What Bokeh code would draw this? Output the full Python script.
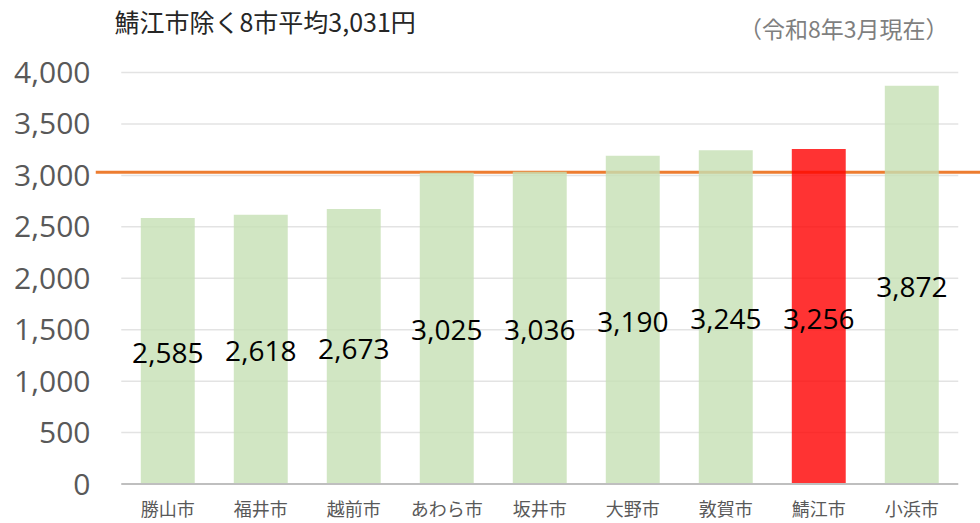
from bokeh.plotting import figure
from bokeh.models import Range1d, FixedTicker, NumeralTickFormatter, Span, Label, ColumnDataSource
from bokeh.embed import file_html
from bokeh.resources import INLINE
from bokeh.core.properties import value

# ---- data ----
cities = ["勝山市", "福井市", "越前市", "あわら市", "坂井市", "大野市", "敦賀市", "鯖江市", "小浜市"]
prices = [2585, 2618, 2673, 3025, 3036, 3190, 3245, 3256, 3872]
highlight = "鯖江市"
average_excl = 3031
y_ticks = [0, 500, 1000, 1500, 2000, 2500, 3000, 3500, 4000]
title_text = "鯖江市除く8市平均3,031円"
note_text = "（令和8年3月現在）"

GREEN = "#C5E0B4"
RED = "#FF0000"
ORANGE = "#ED7D31"

xs = [i + 0.5 for i in range(len(cities))]
colors = [RED if c == highlight else GREEN for c in cities]
labels = [f"{v:,}" for v in prices]
mids = [v / 2 for v in prices]

src = ColumnDataSource(dict(x=xs, top=prices, color=colors, label=labels, mid=mids, city=cities))

p = figure(width=980, height=523, output_backend="svg", toolbar_location=None,
           x_range=Range1d(-0.277, 9.239), y_range=Range1d(-43.7, 4700),
           min_border_left=95, min_border_right=0, min_border_top=0, min_border_bottom=35)
p.outline_line_color = None
p.xgrid.visible = False
p.ygrid.visible = False
p.background_fill_color = "white"
p.border_fill_color = "white"

# gridlines (drawn within category extent)
n = len(cities)
grid_y = [t for t in y_ticks if t > 0]
gl = p.segment(x0=[0] * len(grid_y), x1=[n] * len(grid_y), y0=grid_y, y1=grid_y,
               line_color="#e3e3e3", line_width=1.5)
gl.level = "underlay"

# average line
avg = Span(location=average_excl, dimension="width", line_color=ORANGE, line_width=3)
avg.level = "underlay"
p.add_layout(avg)

# bars
p.vbar(x="x", top="top", bottom=0, width=0.58, fill_color="color", fill_alpha=0.8,
       line_color=None, source=src)

# baseline
p.segment(x0=[0], x1=[n], y0=[0], y1=[0], line_color="#bfbfbf", line_width=2)

# value labels
p.text(x="x", y="mid", text="label", source=src, text_align="center", text_baseline="middle",
       text_font=value("Open Sans"), text_font_size="28px", text_color="black", y_offset=2)

# axes
p.yaxis.ticker = FixedTicker(ticks=y_ticks)
p.yaxis.formatter = NumeralTickFormatter(format="0,0")
p.yaxis.axis_line_color = None
p.yaxis.major_tick_line_color = None
p.yaxis.minor_tick_line_color = None
p.yaxis.major_tick_out = 0
p.yaxis.major_tick_in = 0
p.yaxis.major_label_standoff = 5
p.yaxis.major_label_text_font = "Open Sans"
p.yaxis.major_label_text_font_size = "30px"
p.yaxis.major_label_text_color = "#595959"

p.xaxis.ticker = FixedTicker(ticks=xs)
p.xaxis.major_label_overrides = {x: c for x, c in zip(xs, cities)}
p.xaxis.axis_line_color = None
p.xaxis.major_tick_line_color = None
p.xaxis.minor_tick_line_color = None
p.xaxis.major_tick_out = 0
p.xaxis.major_tick_in = 0
p.xaxis.major_label_standoff = 6
p.xaxis.major_label_text_font = "Noto Sans CJK JP"
p.xaxis.major_label_text_font_size = "18px"
p.xaxis.major_label_text_color = "#595959"

# title & note
p.add_layout(Label(x=-0.073, y=4496, text=title_text, text_font="Noto Sans CJK JP",
                   text_font_size="25px", text_color="#262626", text_baseline="middle",
                   text_align="left"))
p.add_layout(Label(x=8.895, y=4428, text=note_text, text_font="Noto Sans CJK JP",
                   text_font_size="23px", text_color="#7f7f7f", text_baseline="middle",
                   text_align="right"))

open("out.html", "w").write(file_html(p, INLINE))
